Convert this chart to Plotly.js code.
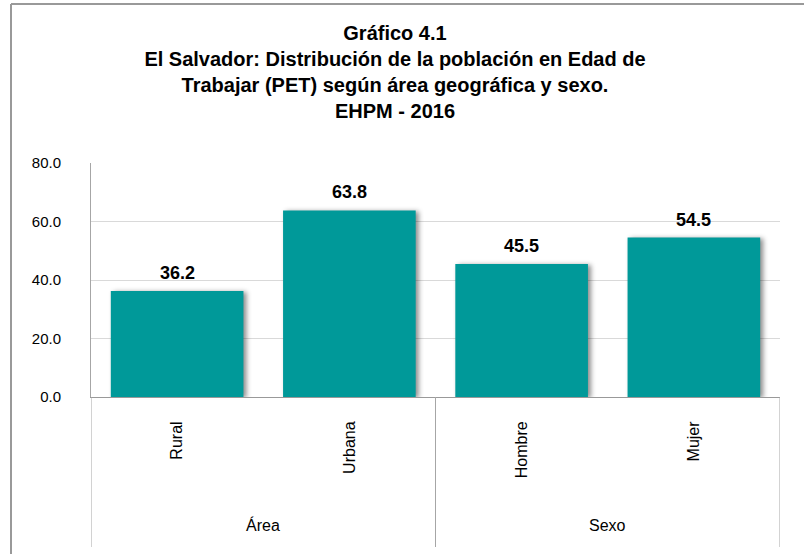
<!DOCTYPE html>
<html>
<head>
<meta charset="utf-8">
<script src="https://cdn.plot.ly/plotly-3.0.1.min.js"></script>
<style>
html, body { margin: 0; padding: 0; background: #fff; }
#chart { width: 804px; height: 554px; }
.trace.bars .point path { filter: drop-shadow(3px 1px 2.5px rgba(0,0,0,0.45)); }
</style>
</head>
<body>
<div id="chart"></div>
<script>
// Data
const categories = ["Rural", "Urbana", "Hombre", "Mujer"];
const groups = ["Área", "Área", "Sexo", "Sexo"];
const values = [36.2, 63.8, 45.5, 54.5];
const yTicks = [0, 20, 40, 60, 80];
const titleLines = [
  "Gráfico 4.1",
  "El Salvador: Distribución de la población en Edad de",
  "Trabajar (PET) según área geográfica y sexo.",
  "EHPM - 2016"
];

const barColor = "#009999";
const gridColor = "#d9d9d9";
const lineColor = "#a6a6a6";
const textFont = "Liberation Sans, Arial, sans-serif";
const titleFont = "Liberation Sans Narrow, Arial Narrow, Liberation Sans, Arial, sans-serif";

const trace = {
  type: "bar",
  x: categories,
  y: values,
  marker: { color: barColor, line: { width: 0 } },
  width: 0.77,
  hoverinfo: "x+y"
};

// data labels
const annotations = values.map((v, i) => ({
  x: categories[i], y: v, xref: "x", yref: "y",
  text: "<b>" + v.toFixed(1) + "</b>",
  showarrow: false, yanchor: "bottom", yshift: 6,
  font: { family: textFont, size: 18, color: "#000" }
}));

// group labels and dividers
const plotH = 554 - 163 - 157;
const shapes = [];
const uniqueGroups = [];
groups.forEach((g, i) => {
  if (!uniqueGroups.length || uniqueGroups[uniqueGroups.length - 1].name !== g) {
    uniqueGroups.push({ name: g, start: i, end: i });
  } else {
    uniqueGroups[uniqueGroups.length - 1].end = i;
  }
});
const divBottom = -(547 - 397) / plotH;
uniqueGroups.forEach((g, k) => {
  annotations.push({
    x: (g.start + g.end) / 2, xref: "x", y: -(525 - 397) / plotH, yref: "paper",
    text: g.name, showarrow: false, yanchor: "middle", xanchor: "center",
    font: { family: textFont, size: 16, color: "#000" }
  });
  if (k === 0) {
    shapes.push({ type: "line", xref: "x", yref: "paper", x0: g.start - 0.5, x1: g.start - 0.5,
      y0: 0, y1: divBottom, line: { color: lineColor, width: 1 } });
  }
  shapes.push({ type: "line", xref: "x", yref: "paper", x0: g.end + 0.5, x1: g.end + 0.5,
    y0: 0, y1: divBottom, line: { color: lineColor, width: 1 } });
});

// outer chart border (top and left)
const plotW = 804 - 91 - 24;
const bx = (11 - 91) / plotW;
const by = 1 + (163 - 4) / plotH;
shapes.push({ type: "line", xref: "paper", yref: "paper", x0: bx, x1: bx, y0: by, y1: -2,
  line: { color: "#999999", width: 2 } });
shapes.push({ type: "line", xref: "paper", yref: "paper", x0: bx, x1: 2, y0: by, y1: by,
  line: { color: "#999999", width: 2 } });

const layout = {
  width: 804, height: 554,
  margin: { l: 91, r: 24, t: 163, b: 157 },
  paper_bgcolor: "#fff", plot_bgcolor: "#fff",
  showlegend: false,
  bargap: 0.23,
  title: {
    text: titleLines.map(t => "<b>" + t + "</b>").join("<br>"),
    font: { family: titleFont, size: 20, color: "#000" },
    x: 395 / 804, xanchor: "center", xref: "container",
    y: 1 - 40 / 554, yanchor: "top", yref: "container"
  },
  xaxis: {
    type: "category",
    tickangle: -90,
    tickfont: { family: textFont, size: 16, color: "#000" },
    ticklabelstandoff: 17,
    showline: true, linecolor: "#999999", linewidth: 1,
    showgrid: false, zeroline: false, ticks: "",
    range: [-0.5, categories.length - 0.5]
  },
  yaxis: {
    range: [0, 80],
    tickvals: yTicks,
    tickformat: ".1f",
    tickfont: { family: textFont, size: 15, color: "#000" },
    ticklabelstandoff: 26,
    showline: true, linecolor: lineColor, linewidth: 1,
    gridcolor: gridColor, gridwidth: 1,
    zeroline: false, ticks: ""
  },
  annotations: annotations,
  shapes: shapes
};

Plotly.newPlot("chart", [trace], layout, { displayModeBar: false, staticPlot: true });
</script>
</body>
</html>
